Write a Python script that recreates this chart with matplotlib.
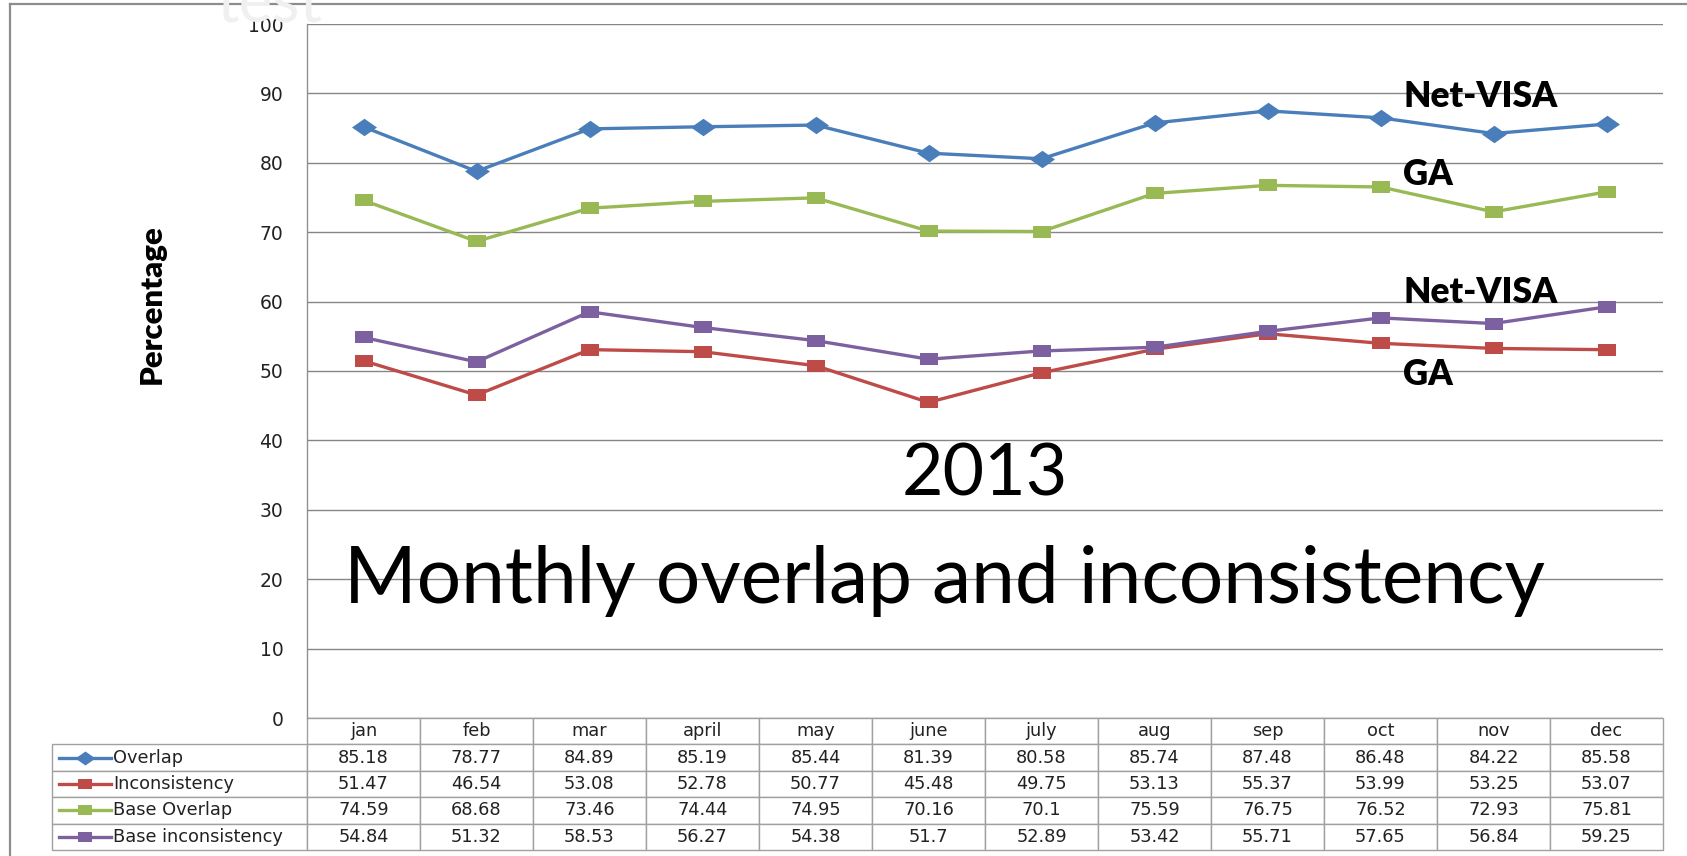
import matplotlib
matplotlib.use("Agg")
import matplotlib.pyplot as plt
from matplotlib.lines import Line2D

# ====
# DATA
# ====

months = ['jan', 'feb', 'mar', 'april', 'may', 'june', 'july', 'aug', 'sep', 'oct', 'nov', 'dec']
overlap = [85.18, 78.77, 84.89, 85.19, 85.44, 81.39, 80.58, 85.74, 87.48, 86.48, 84.22, 85.58]
inconsistency = [51.47, 46.54, 53.08, 52.78, 50.77, 45.48, 49.75, 53.13, 55.37, 53.99, 53.25, 53.07]
base_overlap = [74.59, 68.68, 73.46, 74.44, 74.95, 70.16, 70.1, 75.59, 76.75, 76.52, 72.93, 75.81]
base_inconsistency = [54.84, 51.32, 58.53, 56.27, 54.38, 51.7, 52.89, 53.42, 55.71, 57.65, 56.84, 59.25]

series_names = ['Overlap', 'Inconsistency', 'Base Overlap', 'Base inconsistency']
series_values = [overlap, inconsistency, base_overlap, base_inconsistency]
series_colors = ['#4a7ebb', '#be4b48', '#98b954', '#7d60a0']

y_ticks = [0, 10, 20, 30, 40, 50, 60, 70, 80, 90, 100]

# ======
# LAYOUT
# ======

W, H = 1687, 856
fig = plt.figure(figsize=(W / 100, H / 100), dpi=100)
fig.patch.set_facecolor('white')

# plot area in pixels (left, right, top, bottom)
px_l, px_r, px_t, px_b = 307, 1663, 24, 718
ax = fig.add_axes([px_l / W, 1 - px_b / H, (px_r - px_l) / W, (px_b - px_t) / H])
ax_w, ax_h = px_r - px_l, px_b - px_t

# stretched marker shapes (the original screenshot is stretched horizontally)
diamond = [(-1, 0), (0, 0.7), (1, 0), (0, -0.7), (-1, 0)]
square = [(-1, -0.72), (1, -0.72), (1, 0.72), (-1, 0.72), (-1, -0.72)]
markers = [(diamond, 18), (square, 12.5), (square, 12.5), (square, 12.5)]

x = list(range(len(months)))
for name, vals, col, (mk, ms) in zip(series_names, series_values, series_colors, markers):
    ax.plot(x, vals, color=col, lw=2.4, marker=mk, markersize=ms,
            markeredgewidth=0, label=name, zorder=3)

ax.set_xlim(-0.5, len(months) - 0.5)
ax.set_ylim(0, 100)
ax.set_yticks(y_ticks)
ax.set_xticks([])
ax.grid(axis='y', color='#868686', lw=1.0)
ax.set_axisbelow(True)
ax.tick_params(axis='y', length=0, pad=17, labelsize=13.5, labelcolor='#222222')
for side in ['top', 'right', 'bottom']:
    ax.spines[side].set_visible(False)
ax.spines['left'].set_color('#909090')
ax.spines['left'].set_linewidth(1.0)


def fit(t, target_px, vertical=False):
    fig.canvas.draw()
    bb = t.get_window_extent()
    size = bb.height if vertical else bb.width
    t.set_fontsize(t.get_fontsize() * target_px / size)


def dx(px):
    # figure pixel x -> data x
    return (px - px_l) / ax_w * len(months) - 0.5


def dy(px):
    # figure pixel y (from top) -> data y
    return (px_b - px) / ax_h * 100


# y label
ylab = ax.text((152 - px_l) / ax_w, (px_b - 304) / ax_h, 'Percentage', transform=ax.transAxes,
               rotation=90, ha='center', va='center', fontsize=22, fontweight='heavy',
               family='Lato')
fit(ylab, 160, vertical=True)

# series annotations
annots = [('Net-VISA', 107), ('GA', 185), ('Net-VISA', 303), ('GA', 385)]
for label, base in annots:
    t = ax.text(dx(1403), dy(base), label, ha='left', va='baseline', fontsize=25,
                fontweight='heavy', family='Lato', zorder=4)
    fit(t, 155 if label == 'Net-VISA' else 50)

# titles inside the plot
t1 = ax.text(dx(985), dy(495), '2013', ha='center', va='baseline', fontsize=52,
             family='Lato', zorder=4)
fit(t1, 166)
t2 = ax.text(dx(944), dy(603), 'Monthly overlap and inconsistency', ha='center',
             va='baseline', fontsize=60, family='Lato', zorder=4)
fit(t2, 1204)

# =====
# TABLE
# =====

tb_l, tb_b = 52, 850
bbox = [(tb_l - px_l) / ax_w, (px_b - tb_b) / ax_h, (px_r - tb_l) / ax_w, (tb_b - px_b) / ax_h]
cell_text = [[name] + [str(v) for v in vals] for name, vals in zip(series_names, series_values)]
label_w = px_l - tb_l
col_w = [label_w] + [ax_w / len(months)] * len(months)
col_w = [c / (px_r - tb_l) for c in col_w]
tab = ax.table(cellText=cell_text, colLabels=[''] + months, colWidths=col_w,
               cellLoc='center', bbox=bbox)
tab.auto_set_font_size(False)
tab.set_fontsize(12.8)
for (r, c), cell in tab.get_celld().items():
    cell.set_edgecolor('#a0a0a0')
    cell.set_linewidth(1.0)
    cell.get_text().set_color('#222222')
    if r == 0 and c == 0:
        cell.visible_edges = ''
    elif c == 0:
        cell.get_text().set_ha('left')
        cell.PAD = (113 - tb_l) / label_w

# legend keys inside the row label cells
row_h = bbox[3] / 5
for i, (col, (mk, ms)) in enumerate(zip(series_colors, markers)):
    yc = -(i + 1.5) * row_h
    x0, x1 = (59 - px_l) / ax_w, (111 - px_l) / ax_w
    ax.add_line(Line2D([x0, x1], [yc, yc], color=col, lw=2.4, transform=ax.transAxes,
                       clip_on=False))
    ax.add_line(Line2D([(x0 + x1) / 2], [yc], color=col, marker=mk, markersize=ms * 0.8,
                       markeredgewidth=0, transform=ax.transAxes, clip_on=False))

# outer frame of the chart area (right and bottom edges are cut off)
fig.add_artist(Line2D([10 / W, 10 / W], [0, 1 - 4 / H], color='#8c8c8c', lw=1.6))
fig.add_artist(Line2D([10 / W, 1], [1 - 4 / H, 1 - 4 / H], color='#8c8c8c', lw=1.6))

# faint watermark at the top
wm = fig.text(270 / W, 1 - 22 / H, 'test', ha='center', va='baseline', fontsize=46,
              family='Lato', color='#f0f0f0', zorder=10)
fit(wm, 106)

fig.savefig('out.png', dpi=100, facecolor='white')
